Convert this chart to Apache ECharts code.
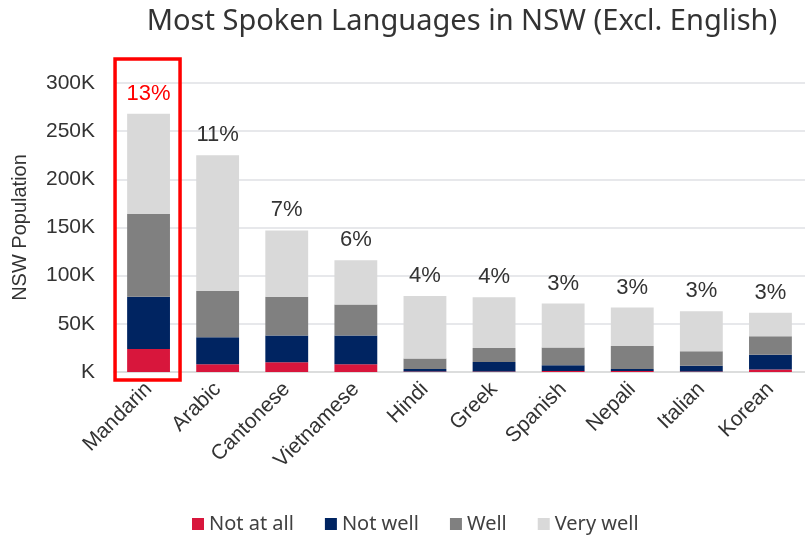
<!DOCTYPE html>
<html>
<head>
<meta charset="utf-8">
<script src="https://cdn.jsdelivr.net/npm/echarts@6/dist/echarts.min.js"></script>
<style>
  html, body { margin: 0; padding: 0; background: #fff; }
  #chart { width: 805px; height: 538px; }
</style>
</head>
<body>
<div id="chart"></div>
<script>
// languages, values in persons
var languages = ['Mandarin', 'Arabic', 'Cantonese', 'Vietnamese', 'Hindi', 'Greek', 'Spanish', 'Nepali', 'Italian', 'Korean'];
var notAtAll = [24000, 8000, 10000, 8000, 500, 500, 1000, 1000, 500, 2500];
var notWell  = [54000, 28000, 28000, 30000, 2500, 10000, 6000, 2000, 6000, 15500];
var well     = [86000, 48000, 40000, 32000, 11000, 14500, 18500, 24000, 15000, 19000];
var veryWell = [104000, 141000, 69000, 46000, 65000, 52500, 45500, 40000, 41500, 24500];
var shares   = ['13%', '11%', '7%', '6%', '4%', '4%', '3%', '3%', '3%', '3%'];

var axisFont = '"Liberation Sans", Arial, sans-serif';
var textFont = '"Noto Sans", "Open Sans", sans-serif';

var chart = echarts.init(document.getElementById('chart'));

var topData = veryWell.map(function (v, i) {
    var item = { value: v };
    if (i === 0) item.label = { color: '#ff0000' };
    return item;
});

function seg(name, data, color) {
    return {
        name: name,
        type: 'bar',
        stack: 'lang',
        barWidth: '62%',
        data: data,
        itemStyle: { color: color },
        emphasis: { disabled: true }
    };
}

var series = [
    seg('Not at all', notAtAll, '#d8163c'),
    seg('Not well', notWell, '#002461'),
    seg('Well', well, '#808080'),
    seg('Very well', topData, '#d9d9d9')
];
series[3].label = {
    show: true,
    position: 'top',
    distance: 9,
    fontFamily: axisFont,
    fontSize: 22,
    color: '#333',
    formatter: function (p) { return shares[p.dataIndex]; }
};

option = {
    animation: false,
    title: {
        text: 'Most Spoken Languages in NSW (Excl. English)',
        left: 457,
        textAlign: 'center',
        top: 2,
        textStyle: { fontFamily: textFont, fontSize: 29, fontWeight: 'normal', color: '#333' }
    },
    legend: {
        bottom: -1,
        left: 187,
        itemWidth: 12,
        itemHeight: 12,
        itemGap: 31,
        icon: 'rect',
        textStyle: { fontFamily: textFont, fontSize: 20, color: '#404040' },
        data: ['Not at all', 'Not well', 'Well', 'Very well']
    },
    grid: { left: 114, top: 83, width: 694, height: 289 },
    xAxis: {
        type: 'category',
        data: languages,
        axisTick: { show: false },
        axisLine: { lineStyle: { color: '#d9d9d9', width: 1.5 } },
        axisLabel: {
            rotate: 45,
            interval: 0,
            margin: 14,
            fontFamily: axisFont,
            fontSize: 21,
            color: '#333'
        }
    },
    yAxis: {
        type: 'value',
        min: 0,
        max: 300000,
        interval: 50000,
        name: 'NSW Population',
        nameLocation: 'middle',
        nameGap: 84,
        nameTextStyle: { fontFamily: axisFont, fontSize: 20, color: '#333' },
        axisLabel: {
            margin: 19,
            fontFamily: axisFont,
            fontSize: 21,
            color: '#333',
            formatter: function (v) { return v === 0 ? 'K' : (v / 1000) + 'K'; }
        },
        splitLine: { lineStyle: { color: '#dfe1e5', width: 1.5 } }
    },
    series: series
};

chart.setOption(option);

// red highlight box around the Mandarin bar
var c = chart.convertToPixel({ gridIndex: 0 }, ['Mandarin', 0]);
var topPx = chart.convertToPixel({ gridIndex: 0 }, ['Mandarin', 300000]);
chart.setOption({
    graphic: [{
        type: 'rect',
        shape: { x: c[0] - 33.5, y: topPx[1] - 24, width: 65, height: c[1] - topPx[1] + 32 },
        style: { fill: 'none', stroke: '#ff0000', lineWidth: 3.5 },
        z: 100
    }]
});
</script>
</body>
</html>
